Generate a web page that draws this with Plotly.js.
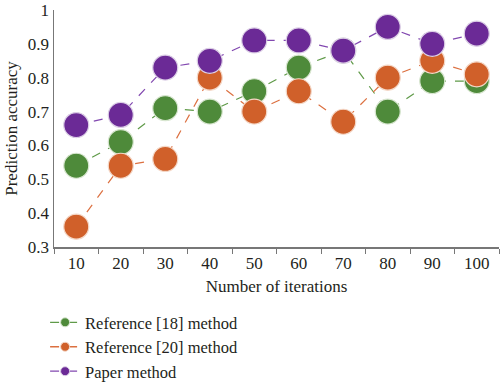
<!DOCTYPE html>
<html>
<head>
<meta charset="utf-8">
<script src="https://cdn.plot.ly/plotly-3.0.1.min.js"></script>
<style>html,body{margin:0;padding:0;background:#fff;}#chart{width:500px;height:383px;}</style>
</head>
<body>
<div id="chart"></div>
<script>
var iterations = ["10","20","30","40","50","60","70","80","90","100"];
var ref18 = [0.54, 0.61, 0.71, 0.70, 0.76, 0.83, 0.88, 0.70, 0.79, 0.79];
var ref20 = [0.36, 0.54, 0.56, 0.80, 0.70, 0.76, 0.67, 0.80, 0.85, 0.81];
var paper = [0.66, 0.69, 0.83, 0.85, 0.91, 0.91, 0.88, 0.95, 0.90, 0.93];
var names = ["Reference [18] method", "Reference [20] method", "Paper method"];
var colors = ["#4e8a3a", "#d0602a", "#6b2a96"];
var rims = ["#d8e6d0", "#f4d8c8", "#dccfe6"];
var lineColors = ["#5f9a48", "#dc7040", "#8248b0"];
var series = [ref18, ref20, paper];

var traces = [];
series.forEach(function(s, i) {
  traces.push({
    x: iterations, y: s, type: "scatter", mode: "lines+markers",
    showlegend: false,
    line: {color: lineColors[i], width: 1.2, dash: "dash"},
    marker: {size: 25, color: colors[i], line: {color: rims[i], width: 1.2}}
  });
});
series.forEach(function(s, i) {
  traces.push({
    x: [null], y: [null], type: "scatter", mode: "lines+markers", name: names[i],
    line: {color: lineColors[i], width: 1.3, dash: "dash"},
    marker: {size: 9, color: colors[i], line: {color: rims[i], width: 1}}
  });
});

var font = {family: "Liberation Serif, Times New Roman, serif", size: 17, color: "#231f20"};
var legendFont = {family: "Liberation Serif, Times New Roman, serif", size: 16.5, color: "#231f20"};
var layout = {
  width: 500, height: 383,
  margin: {l: 54, r: 1, t: 10, b: 136, autoexpand: false},
  paper_bgcolor: "#fff", plot_bgcolor: "#fff",
  font: font,
  showlegend: true,
  legend: {x: -0.02, y: -0.245, xanchor: "left", yanchor: "top", orientation: "v",
           font: legendFont, bgcolor: "rgba(0,0,0,0)", itemwidth: 30, tracegroupgap: 0},
  xaxis: {
    type: "category", categoryorder: "array", categoryarray: iterations,
    range: [-0.5, 9.5], showgrid: false, zeroline: false, automargin: false,
    showline: true, linecolor: "#777", linewidth: 1.5,
    ticks: "outside", tickson: "boundaries", ticklen: 5, tickcolor: "#777",
    tickfont: font,
    title: {text: "Number of iterations", font: font, standoff: 8}
  },
  yaxis: {
    range: [0.3, 1], dtick: 0.1, tickformat: "~g", showgrid: false, zeroline: false, automargin: false,
    showline: true, linecolor: "#777", linewidth: 1.5, ticks: "",
    tickfont: font,
    title: {text: "Prediction accuracy", font: font, standoff: 6}
  }
};
Plotly.newPlot("chart", traces, layout, {staticPlot: true, displayModeBar: false});
</script>
</body>
</html>
